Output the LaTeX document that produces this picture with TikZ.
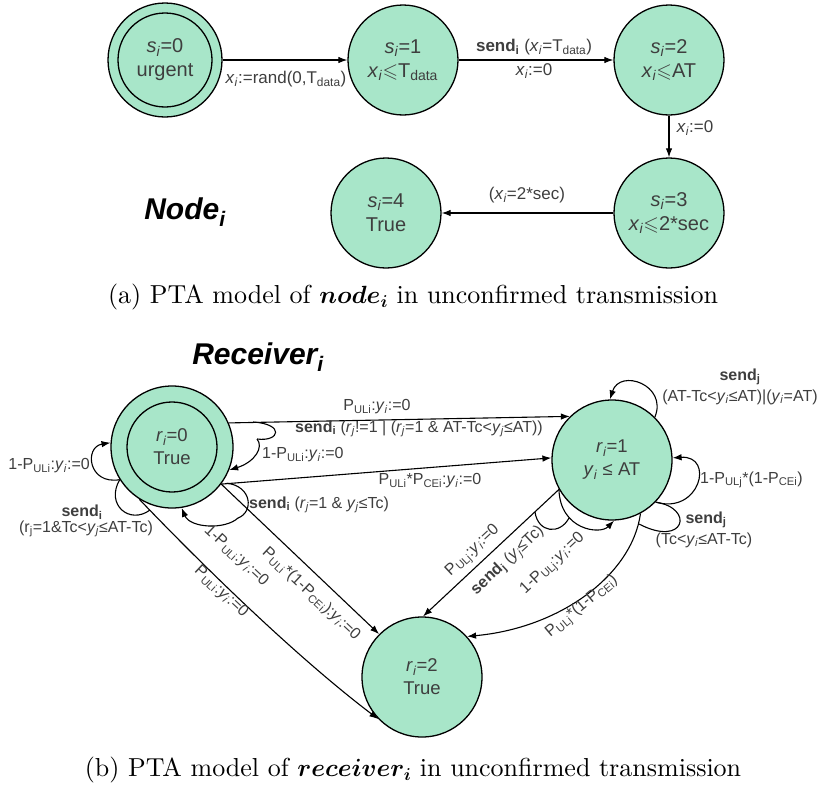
\documentclass[tikz,border=0pt]{standalone}
\usepackage{fontspec}
\usepackage{amssymb}
\newfontfamily\arial{Liberation Sans}
\newfontfamily\capfont{lmroman10-regular.otf}
\usetikzlibrary{arrows.meta}
\definecolor{mint}{RGB}{168,230,201}
\definecolor{txt}{RGB}{62,62,62}
% italic variable with italic index
\newcommand\vi[2]{\textit{#1}\textsubscript{\textit{#2}}}
% bold channel name with bold index
\newcommand\snd[1]{\textbf{send}\textsubscript{\textbf{#1}}}
\tikzset{
  stbox/.style={circle, draw=black, line width=1.3pt, fill=mint, minimum size=110pt,
    inner sep=0pt, align=center, text=txt, font=\arial\fontsize{20}{24}\selectfont},
  rstbox/.style={stbox, minimum size=120pt, font=\arial\fontsize{18.5}{23}\selectfont},
  lab/.style={text=txt, inner sep=1pt, font=\arial\fontsize{17}{20}\selectfont},
  blab/.style={text=txt, inner sep=1pt, font=\arial\fontsize{16}{19}\selectfont},
  ttl/.style={text=black, inner sep=0pt, font=\arial\bfseries\itshape\fontsize{30}{34}\selectfont},
  captext/.style={text=black, inner sep=0pt, font=\capfont\fontsize{26}{30}\selectfont},
  conn/.style={draw=black, line width=1.1pt, -{Latex[length=9pt,width=6.5pt]}},
  arcline/.style={draw=black, line width=1.1pt},
}
\begin{document}
\begin{tikzpicture}[x=1pt,y=-1pt]
\useasboundingbox (0,0) rectangle (826,787);

% ---------------- node_i ----------------
\node[stbox, minimum size=114pt] (s0) at (165,60) {\vi{s}{i}=0\\urgent};
\draw[line width=1.3pt] (s0.center) circle[radius=47pt];
\node[stbox] (s1) at (403,60) {\vi{s}{i}=1\\\vi{x}{i}$\leqslant$T\textsubscript{data}};
\node[stbox] (s2) at (669,60) {\vi{s}{i}=2\\\vi{x}{i}$\leqslant$AT};
\node[stbox] (s3) at (669,213) {\vi{s}{i}=3\\\vi{x}{i}$\leqslant$2*sec};
\node[stbox] (s4) at (386,213) {\vi{s}{i}=4\\True};

\draw[conn] (s0) -- (s1);
\draw[conn] (s1) -- (s2);
\draw[conn] (s2) -- (s3);
\draw[conn] (s3) -- (s4);

\node[lab] (l01) at (286,79) {\vi{x}{i}:=rand(0,T\textsubscript{data})};
\node[lab] (l12a) at (534,47) {\snd{i} (\vi{x}{i}=T\textsubscript{data})};
\node[lab] (l12b) at (534,71) {\vi{x}{i}:=0};
\node[lab] (l23) at (695,128) {\vi{x}{i}:=0};
\node[lab] (l34) at (527,195) {(\vi{x}{i}=2*sec)};

\node[ttl] (ntitle) at (185,212) {Node\textsubscript{i}};
\node[captext] (capa) at (413,297) {(a) PTA model of {\boldmath$node_i$} in unconfirmed transmission};

% ---------------- receiver_i ----------------
\node[ttl] (rtitle) at (258,357) {Receiver\textsubscript{i}};

\node[rstbox, minimum size=122pt] (r0) at (172,447) {\vi{r}{i}=0\\True};
\draw[line width=1.3pt] (r0.center) circle[radius=45pt];
\node[rstbox] (r1) at (612,460) {\vi{r}{i}=1\\\vi{y}{i} ≤ AT};
\node[rstbox] (r2) at (422,677) {\vi{r}{i}=2\\True};

% branch points
\coordinate (ba1) at (253,422);
\coordinate (ba2) at (257,439);
\coordinate (bb1) at (226.7,483.2);
\coordinate (bb2) at (238,518);
\coordinate (bc2) at (150,510);
\coordinate (bd2) at (639,524);
\coordinate (be1) at (535,512);
\coordinate (be2) at (569,518);

% transitions leaving r0
\draw[conn] (r0.23) -- (r1.134);
\draw[arcline] (ba1) .. controls (285,424) and (280,442) .. (ba2);
\draw[conn] (ba2) .. controls (264,447) and (255,462) .. (r0.-22);

\draw[conn] (r0.-37) -- (r1.178);
\draw[conn] (r0.-37) -- (r2.135);
\draw[arcline] (bb1) .. controls (252,486) and (254,512) .. (bb2);
\draw[conn] (bb2) .. controls (225,530) and (190,528) .. (r0.-81);

\draw[conn] (r0.238) .. controls (207,570) and (299,659) .. (r2.224);
\draw[conn] (r0.212) .. controls (88,485) and (84,447) .. (r0.176);
\draw[arcline] (r0.212) .. controls (105,505) and (130,525) .. (bc2);

% transitions leaving r1
\draw[conn] (r1.45) .. controls (668,385) and (620,368) .. (r1.92);
\draw[conn] (r1.-44) .. controls (700,515) and (715,455) .. (r1.2);
\draw[arcline] (r1.-44) .. controls (695,508) and (685,548) .. (bd2);
\draw[conn] (r1.-62) .. controls (632,575) and (560,628) .. (r2.42);

\draw[conn] (r1.209) -- (r2.89);
\draw[arcline] (be1) .. controls (538,533) and (560,535) .. (be2);
\draw[conn] (r1.209) .. controls (560,530) and (600,535) .. (r1.-88);

% labels
\node[blab] (t1) at (377,407) {P\textsubscript{ULi}:\vi{y}{i}:=0};
\node[blab] (t2) at (419,429) {\snd{i} (\vi{r}{j}!=1 | (\vi{r}{j}=1 \& AT-Tc<\vi{y}{j}≤AT))};
\node[blab, anchor=west] (t3) at (261,455) {1-P\textsubscript{ULi}:\vi{y}{i}:=0};
\node[blab] (t4) at (430,481) {P\textsubscript{ULi}*P\textsubscript{CEi}:\vi{y}{i}:=0};
\node[blab, anchor=west] (t5) at (248,505) {\snd{i} (\vi{r}{j}=1 \& \vi{y}{j}≤Tc)};
\node[blab, anchor=east] (t6) at (91,466) {1-P\textsubscript{ULi}:\vi{y}{i}:=0};
\node[blab] (t7) at (82,512) {\snd{i}};
\node[blab] (t8) at (86,529) {(r\textsubscript{j}=1\&Tc<\vi{y}{j}≤AT-Tc)};
\node[blab, rotate=-43] (t9) at (236,556) {1-P\textsubscript{ULi}:\vi{y}{i}:=0};
\node[blab, rotate=-43] (t10) at (221,592) {P\textsubscript{ULi}:\vi{y}{i}:=0};
\node[blab, rotate=-43] (t11) at (311,594) {P\textsubscript{ULi}*(1-P\textsubscript{CEi}):\vi{y}{i}:=0};
\node[blab] (t12) at (740,377) {\snd{j}};
\node[blab] (t13) at (740,397) {(AT-Tc<\vi{y}{i}≤AT)|(\vi{y}{i}=AT)};
\node[blab, anchor=west] (t14) at (699,480) {1-P\textsubscript{ULj}*(1-P\textsubscript{CEi})};
\node[blab] (t15) at (706,520) {\snd{j}};
\node[blab] (t16) at (704,540) {(Tc<\vi{y}{i}≤AT-Tc)};
\node[blab, rotate=43] (t17) at (473,551) {P\textsubscript{ULj}:\vi{y}{i}:=0};
\node[blab, rotate=43] (t18) at (508,561) {\snd{j} (\vi{y}{j}≤Tc)};
\node[blab, rotate=43] (t19) at (553,564) {1-P\textsubscript{ULj}:\vi{y}{i}:=0};
\node[blab, rotate=40] (t20) at (582,607) {P\textsubscript{ULj}*(1-P\textsubscript{CEi})};

\node[captext] (capb) at (413,770) {(b) PTA model of {\boldmath$receiver_i$} in unconfirmed transmission};
\end{tikzpicture}
\end{document}
